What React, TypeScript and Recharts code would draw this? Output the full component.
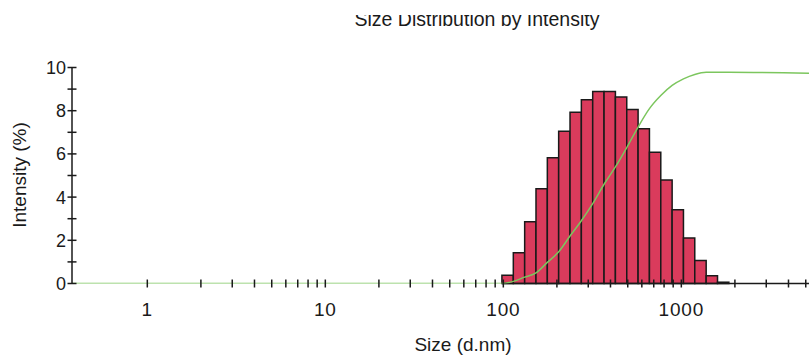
import { ComposedChart, XAxis, YAxis, Line, ReferenceArea, ReferenceLine } from 'recharts'

// histogram bins (d.nm) - bin edges and intensity (%) per bin
const binEdges = [
  98.2, 113.8, 131.8, 152.6, 176.7, 204.6, 237.0, 274.4, 317.8, 368.1, 426.3,
  493.7, 571.6, 662.0, 766.6, 887.9, 1028, 1190, 1379, 1597, 1849,
]
const intensity = [
  0.38, 1.42, 2.86, 4.39, 5.82, 7.05, 7.93, 8.51, 8.89, 8.89, 8.63, 8.06, 7.17,
  6.08, 4.79, 3.41, 2.11, 1.06, 0.36, 0.06,
]

// cumulative curve (%)
const cumSizes = [
  0.3775, 98.2, 113.8, 131.8, 152.6, 176.7, 204.6, 237.0, 274.4, 317.8, 368.1,
  426.3, 493.7, 571.6, 662.0, 766.6, 887.9, 1028, 1190, 1379, 1597, 1849, 5215,
]
const cumPercent = [
  0, 0, 1, 3, 5, 10, 15, 22.5, 29.7, 37.8, 47, 55.2, 64.4, 74.1, 82.8, 89, 93.8,
  96.9, 99, 100, 100, 100, 99.6,
]

const xTicks = [
  1, 2, 3, 4, 5, 6, 7, 8, 9, 10, 20, 30, 40, 50, 60, 70, 80, 90, 100, 200, 300,
  400, 500, 600, 700, 800, 900, 1000, 2000, 3000, 4000, 5000,
]
const xLabels = [1, 10, 100, 1000]
const yTicks = [0, 1, 2, 3, 4, 5, 6, 7, 8, 9, 10]
const yLabels = [0, 2, 4, 6, 8, 10]

const X_MIN = 0.3775
const X_MAX = 5215

const lineData = cumSizes.map((size, i) => ({ size, cum: cumPercent[i] }))

const FONT = '"Liberation Sans", Arial, sans-serif'
const INK = '#1a1a1a'

const XTick = ({ x, y, payload }: any) => {
  const v = payload.value
  return (
    <g>
      <line x1={x} x2={x} y1={y - 4} y2={y + 4} stroke={INK} strokeWidth={1.5} />
      {xLabels.includes(v) && (
        <text x={x} y={y + 32} textAnchor="middle" fontSize={19} fontFamily={FONT} fill={INK} letterSpacing={0.8}>
          {v}
        </text>
      )}
    </g>
  )
}

const YTick = ({ x, y, payload }: any) => {
  const v = payload.value
  return (
    <g>
      <line x1={x - 4.5} x2={x + 4.5} y1={y} y2={y} stroke={INK} strokeWidth={1.5} />
      {yLabels.includes(v) && (
        <text x={x - 6} y={y} dy="0.36em" textAnchor="end" fontSize={18} fontFamily={FONT} fill={INK}>
          {v}
        </text>
      )}
    </g>
  )
}

export default function App() {
  return (
    <div style={{ position: 'relative', width: 809, height: 358, background: '#fff' }}>
      <style>{'body{margin:0;overflow:hidden}'}</style>
      <ComposedChart
        width={809}
        height={358}
        data={lineData}
        margin={{ top: 67.5, right: 0, bottom: 0, left: 0 }}
      >
        <XAxis
          dataKey="size"
          type="number"
          scale="log"
          domain={[X_MIN, X_MAX]}
          allowDataOverflow
          ticks={xTicks}
          interval={0}
          tick={<XTick />}
          tickLine={false}
          tickSize={0}
          tickMargin={0}
          height={74.5}
          axisLine={false}
        />
        <YAxis
          type="number"
          domain={[0, 10]}
          allowDataOverflow
          ticks={yTicks}
          interval={0}
          tick={<YTick />}
          tickLine={false}
          tickSize={0}
          tickMargin={0}
          width={72}
          axisLine={{ stroke: INK, strokeWidth: 1.5 }}
        />
        <YAxis yAxisId="cum" orientation="right" hide domain={[0, 102.3]} allowDataOverflow />
        {/* black baseline only where the cumulative curve leaves zero */}
        <ReferenceLine
          segment={[
            { x: binEdges[0], y: 0 },
            { x: X_MAX, y: 0 },
          ]}
          stroke={INK}
          strokeWidth={1.5}
          ifOverflow="visible"
        />
        {intensity.map((v, i) => (
          <ReferenceArea
            key={i}
            x1={binEdges[i]}
            x2={binEdges[i + 1]}
            y1={0}
            y2={v}
            fill="#da3b5c"
            fillOpacity={1}
            stroke={INK}
            strokeWidth={1.5}
            ifOverflow="visible"
          />
        ))}
        <Line
          yAxisId="cum"
          type="monotone"
          dataKey="cum"
          stroke="#7cc65e"
          strokeWidth={1.5}
          dot={false}
          isAnimationActive={false}
        />
      </ComposedChart>
      <svg
        width={809}
        height={358}
        style={{ position: 'absolute', left: 0, top: 0, pointerEvents: 'none' }}
      >
        <defs>
          <clipPath id="titleClip">
            <rect x={0} y={15} width={809} height={30} />
          </clipPath>
        </defs>
        <text
          x={477}
          y={25.5}
          textAnchor="middle"
          fontSize={19.5}
          fontFamily={FONT}
          fill={INK}
          clipPath="url(#titleClip)"
        >
          Size Distribution by Intensity
        </text>
        <text x={463} y={351} textAnchor="middle" fontSize={19} fontFamily={FONT} fill={INK}>
          Size (d.nm)
        </text>
        <text
          transform="translate(26,175) rotate(-90)"
          textAnchor="middle"
          fontSize={19}
          fontFamily={FONT}
          fill={INK}
        >
          Intensity (%)
        </text>
      </svg>
    </div>
  )
}
